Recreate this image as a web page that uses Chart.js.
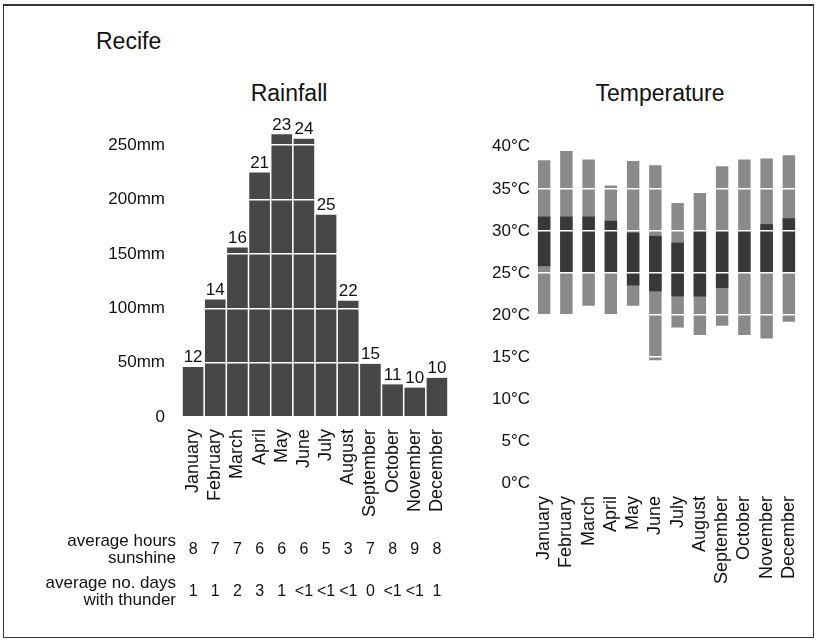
<!DOCTYPE html>
<html>
<head>
<meta charset="utf-8">
<title>Recife</title>
<script src="https://cdn.jsdelivr.net/npm/chart.js@4.4.0/dist/chart.umd.min.js"></script>
<style>
  body { margin: 0; background: #fff; }
  #page { position: relative; width: 819px; height: 644px; overflow: hidden; font-family: "Liberation Sans", Arial, sans-serif; color: #111; }
  #frame { position: absolute; left: 3px; top: 4px; width: 811px; height: 634px; border: 1px solid #333; border-top-width: 2px; box-sizing: border-box; }
  .title { position: absolute; white-space: nowrap; }
  #city { left: 96px; top: 28px; font-size: 23px; }
  #rainTitle { left: 289px; top: 80px; font-size: 23px; transform: translateX(-50%); }
  #tempTitle { left: 660px; top: 80px; font-size: 23px; transform: translateX(-50%); }
  canvas { position: absolute; top: 0; }
  #rainChart { left: 0; }
  #tempChart { left: 465px; }
</style>
</head>
<body>
<div id="page">
  <div id="frame"></div>
  <div class="title" id="city">Recife</div>
  <div class="title" id="rainTitle">Rainfall</div>
  <div class="title" id="tempTitle">Temperature</div>
  <canvas id="rainChart" width="470" height="644"></canvas>
  <canvas id="tempChart" width="354" height="644"></canvas>
</div>
<script>
(function(){
    'use strict';

    const months = ['January', 'February', 'March', 'April', 'May', 'June', 'July', 'August', 'September', 'October', 'November', 'December'];

    // rainfall in mm, and number of rain days printed above each bar
    const rainfallMm = [46, 108, 156, 225, 260, 256, 186, 107, 49, 30, 27, 36];
    const rainDays = [12, 14, 16, 21, 23, 24, 25, 22, 15, 11, 10, 10];
    const rainTicks = [0, 50, 100, 150, 200, 250];

    // rows under the rainfall chart
    const sunshineHours = ['8', '7', '7', '6', '6', '6', '5', '3', '7', '8', '9', '8'];
    const thunderDays = ['1', '1', '2', '3', '1', '<1', '<1', '<1', '0', '<1', '<1', '1'];

    // temperature in °C: record range (light) and average range (dark)
    const recordLow = [20.1, 20.1, 21.1, 20.1, 21.1, 14.6, 18.5, 17.6, 18.7, 17.6, 17.2, 19.2];
    const recordHigh = [38.4, 39.5, 38.5, 35.4, 38.3, 37.8, 33.3, 34.5, 37.7, 38.5, 38.6, 39.0];
    const avgLow = [25.8, 25.0, 25.0, 25.0, 23.5, 22.8, 22.2, 22.2, 23.2, 25.0, 25.0, 25.0];
    const avgHigh = [31.7, 31.7, 31.7, 31.2, 29.8, 29.4, 28.6, 30.0, 30.0, 30.0, 30.8, 31.5];
    const tempTicks = [0, 5, 10, 15, 20, 25, 30, 35, 40];

    const FONT = 'Liberation Sans';
    Chart.defaults.font.family = FONT;
    Chart.defaults.font.size = 17;
    Chart.defaults.color = '#111';

    const fixedTicks = values => scale => { scale.ticks = values.map(v => ({value: v})); };

    // labels above bars plus the sunshine / thunder rows, placed on the x scale
    const rainExtras = {
        id: 'rainExtras',
        afterDraw(chart){
            const ctx = chart.ctx;
            const xs = chart.scales.x;
            const meta = chart.getDatasetMeta(0);
            ctx.save();
            ctx.font = '17px "' + FONT + '"';
            ctx.fillStyle = '#111';
            ctx.textAlign = 'center';
            ctx.textBaseline = 'bottom';
            meta.data.forEach((bar, i) => ctx.fillText(rainDays[i], bar.x, bar.y - 1));

            ctx.textBaseline = 'middle';
            ctx.textAlign = 'right';
            ctx.fillText('average hours', 176, 541);
            ctx.fillText('sunshine', 176, 558);
            ctx.fillText('average no. days', 176, 583);
            ctx.fillText('with thunder', 176, 600);

            ctx.textAlign = 'center';
            ctx.font = '16px "' + FONT + '"';
            months.forEach((m, i) => {
                const x = xs.getPixelForValue(i);
                ctx.fillText(sunshineHours[i], x, 550);
                ctx.fillText(thunderDays[i], x, 592);
            });
            ctx.restore();
        }
    };

    new Chart(document.getElementById('rainChart'), {
        type: 'bar',
        data: {
            labels: months,
            datasets: [{
                label: 'Rainfall',
                data: rainfallMm,
                backgroundColor: '#474747',
                borderWidth: 0,
                barPercentage: 0.93,
                categoryPercentage: 1
            }]
        },
        options: {
            responsive: false,
            animation: false,
            layout: {padding: {left: 0, right: 22, top: 130, bottom: 127}},
            plugins: {legend: {display: false}, tooltip: {enabled: false}},
            scales: {
                x: {
                    grid: {display: false},
                    border: {display: false},
                    ticks: {minRotation: 90, maxRotation: 90, autoSkip: false, padding: 4, font: {size: 18}},
                    afterFit: scale => { scale.height = 100; }
                },
                y: {
                    min: 0,
                    max: 264,
                    afterBuildTicks: fixedTicks(rainTicks),
                    grid: {color: '#ffffff', lineWidth: 1.5, drawTicks: false, z: 1},
                    border: {display: false},
                    ticks: {padding: 17, callback: v => v === 0 ? '0' : v + 'mm'},
                    afterFit: scale => { scale.width = 182; }
                }
            }
        },
        plugins: [rainExtras]
    });

    new Chart(document.getElementById('tempChart'), {
        type: 'bar',
        data: {
            labels: months,
            datasets: [{
                label: 'Average range',
                data: avgLow.map((lo, i) => [lo, avgHigh[i]]),
                backgroundColor: '#383838',
                borderWidth: 0,
                grouped: false,
                order: 0,
                barPercentage: 0.56,
                categoryPercentage: 1
            }, {
                label: 'Record range',
                data: recordLow.map((lo, i) => [lo, recordHigh[i]]),
                backgroundColor: '#8a8a8a',
                borderWidth: 0,
                grouped: false,
                order: 1,
                barPercentage: 0.56,
                categoryPercentage: 1
            }]
        },
        options: {
            responsive: false,
            animation: false,
            layout: {padding: {left: 0, right: 19, top: 130, bottom: 61}},
            plugins: {legend: {display: false}, tooltip: {enabled: false}},
            scales: {
                x: {
                    grid: {display: false},
                    border: {display: false},
                    ticks: {minRotation: 90, maxRotation: 90, autoSkip: false, padding: 5, font: {size: 18}},
                    afterFit: scale => { scale.height = 100; }
                },
                y: {
                    min: 0,
                    max: 42,
                    afterBuildTicks: fixedTicks(tempTicks),
                    grid: {color: '#ffffff', lineWidth: 1.5, drawTicks: false, z: 1},
                    border: {display: false},
                    ticks: {padding: 3, callback: v => v + '°C'},
                    afterFit: scale => { scale.width = 68; }
                }
            }
        }
    });
})();
</script>
</body>
</html>
